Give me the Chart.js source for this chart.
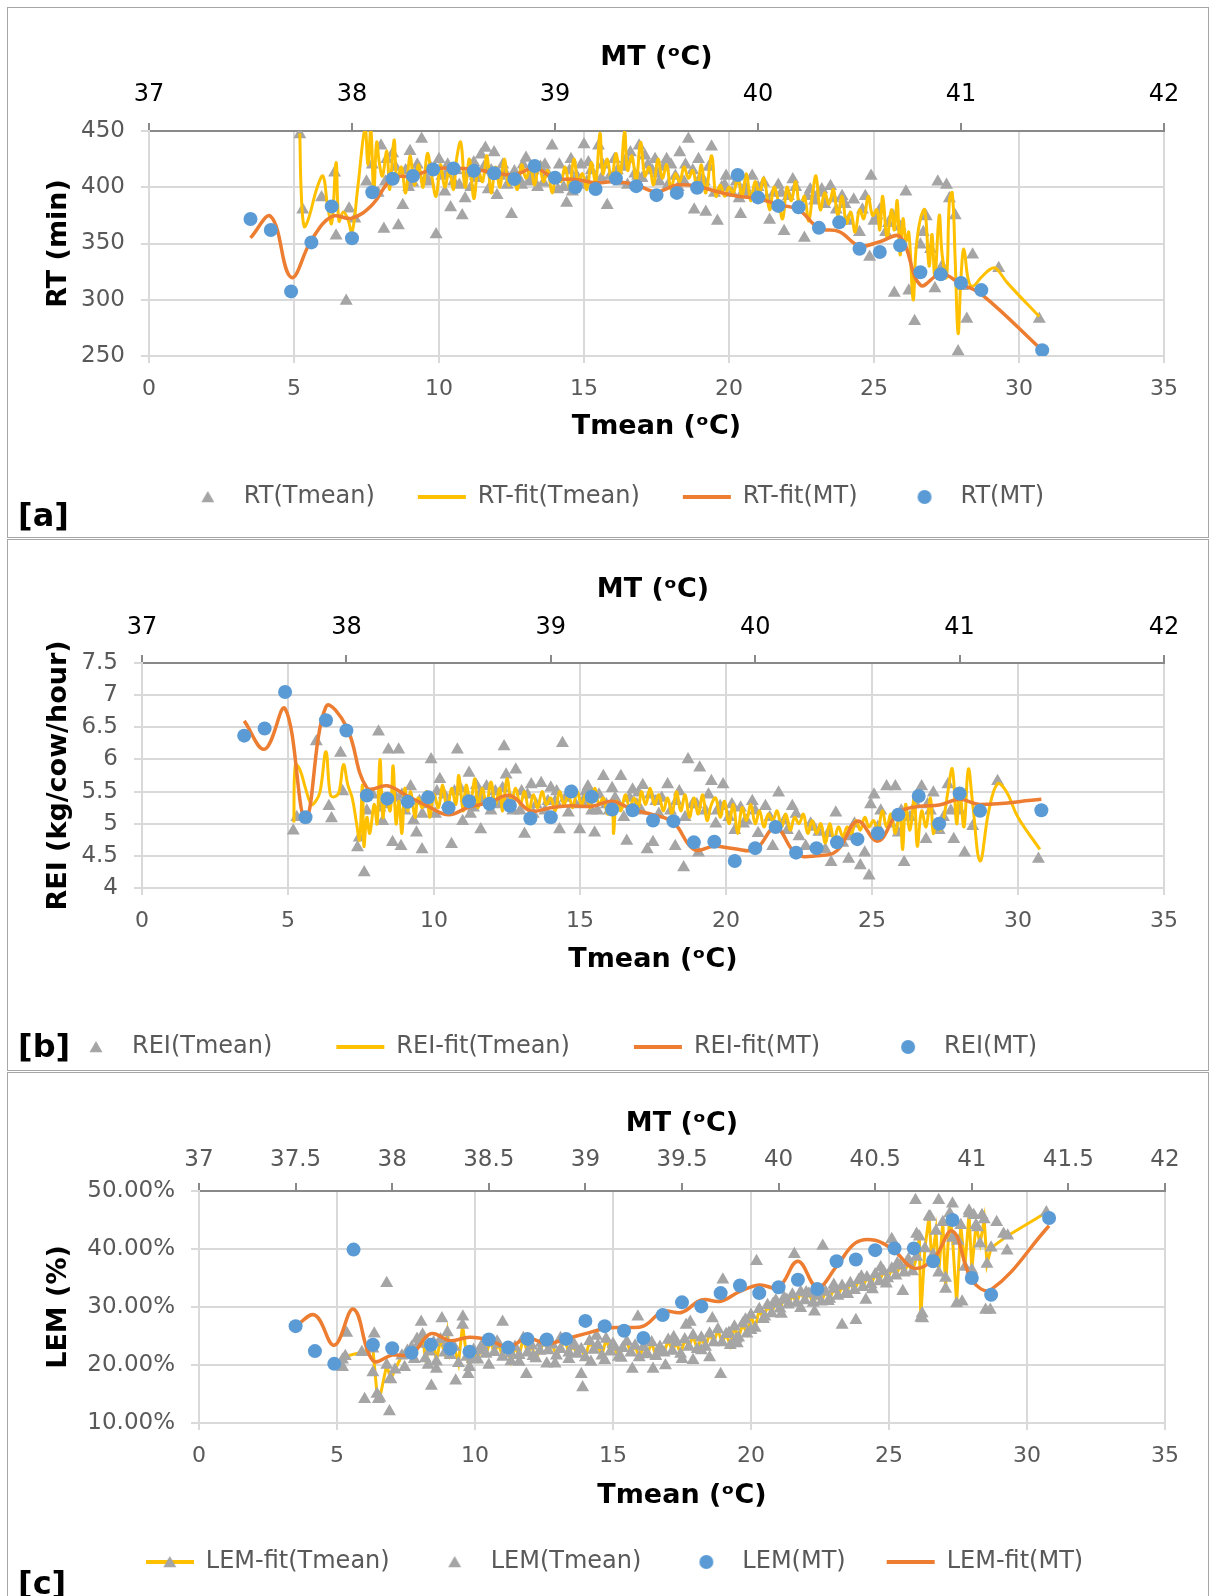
<!DOCTYPE html>
<html>
<head>
<meta charset="utf-8">
<script src="https://cdn.jsdelivr.net/npm/chart.js@4.4.0/dist/chart.umd.min.js"></script>
<style>
body { margin: 0; background: #fff; width: 1210px; height: 1596px; overflow: hidden; position: relative; font-family: 'DejaVu Sans', sans-serif; }
.panel { position: absolute; left: 7px; width: 1202px; border: 1px solid #a6a6a6; box-sizing: border-box; background: #fff; }
.panel canvas { position: absolute; left: 0; top: 0; }
.tag { position: absolute; left: 10px; font: bold 32px/32px 'DejaVu Sans', sans-serif; color: #000; z-index: 2; }
</style>
</head>
<body>
<div class="panel" style="top:7px;height:531px"><canvas id="cA" width="1200" height="529"></canvas><div class="tag" style="top:491px">[a]</div></div>
<div class="panel" style="top:539px;height:532px"><canvas id="cB" width="1200" height="530"></canvas><div class="tag" style="top:490px">[b]</div></div>
<div class="panel" style="top:1072px;height:532px"><canvas id="cC" width="1200" height="530"></canvas><div class="tag" style="top:494px">[c]</div></div>
<script>
// MT points (top axis)
const mtRT = [37.5,37.6,37.7,37.8,37.9,38.0,38.1,38.2,38.3,38.4,38.5,38.6,38.7,38.8,38.9,39.0,39.1,39.2,39.3,39.4,39.5,39.6,39.7,39.9,40.0,40.1,40.2,40.3,40.4,40.5,40.6,40.7,40.8,40.9,41.0,41.1,41.4];
const mtAll = [37.5,37.6,37.7,37.8,37.9,38.0,38.1,38.2,38.3,38.4,38.5,38.6,38.7,38.8,38.9,39.0,39.1,39.2,39.3,39.4,39.5,39.6,39.7,39.8,39.9,40.0,40.1,40.2,40.3,40.4,40.5,40.6,40.7,40.8,40.9,41.0,41.1,41.4];

// [a] RT
const rtMt = [371.8,362,307.4,351,383,354.7,395.6,407.6,410,415.8,416.7,414.6,412.4,407.3,418.9,408.5,400,398.4,407.9,401,393,395,399.6,410.9,391,383.4,382.2,363.9,368.8,345.3,342.5,348.3,324.5,322.7,315,308.6,255.2];
const rtFitMt = [355,374,320,353,374,372.5,384.5,408,410,416,417,416,413,411,417,408,407,404,405,402,396,402,401,396,392,390,384.5,380,363.6,360.6,348,351.6,356,313,323,314,305,255];
const rtTmean = [[5.2,447],[5.3,380],[5.95,391],[6.4,413],[6.45,357],[6.8,299],[6.9,381],[7.1,372],[7.5,405],[7.7,420],[7.9,395],[8.0,437],[8.1,363],[8.2,425],[8.35,410],[8.4,430],[8.6,366],[8.75,384],[8.85,415],[9.0,432],[9.1,404],[9.25,420],[9.4,443],[9.55,408],[9.7,418],[9.9,358],[10.0,425],[10.1,410],[10.2,396],[10.3,420],[10.4,382],[10.5,405],[10.6,415],[10.8,375],[10.9,390],[11.0,412],[11.1,400],[11.2,422],[11.35,408],[11.45,429],[11.6,435],[11.7,398],[11.8,415],[11.9,431],[12.0,393],[12.1,410],[12.2,420],[12.35,402],[12.5,376],[12.6,414],[12.75,408],[12.9,420],[13.0,426],[13.1,405],[13.25,415],[13.4,400],[13.5,418],[13.6,404],[13.75,412],[13.9,437],[14.0,408],[14.15,420],[14.3,400],[14.4,386],[14.5,415],[14.6,396],[14.75,410],[14.9,420],[15.0,438],[15.1,405],[15.25,415],[15.4,400],[15.5,437],[15.65,420],[15.8,384],[15.9,410],[16.05,425],[16.2,405],[16.35,418],[16.5,402],[16.6,431],[16.75,412],[16.9,437],[17.0,408],[17.2,420],[17.35,415],[17.45,425],[17.6,405],[17.75,418],[17.9,402],[18.0,420],[18.15,410],[18.3,431],[18.45,405],[18.6,443],[18.75,415],[18.8,380],[19.0,408],[19.2,378],[19.3,418],[19.4,436],[19.6,370],[19.75,400],[19.9,410],[20.1,395],[20.25,405],[20.4,376],[20.55,400],[20.8,410],[20.95,395],[21.2,404],[21.4,371],[21.55,395],[21.7,402],[21.9,361],[22.05,392],[22.2,407],[22.4,385],[22.6,355],[22.8,398],[22.95,388],[23.1,395],[23.3,385],[23.5,401],[23.7,380],[23.9,392],[24.1,370],[24.3,389],[24.5,360],[24.7,392],[24.85,338],[24.9,410],[25.0,370],[25.2,380],[25.4,360],[25.65,375],[25.7,306],[25.9,365],[26.1,396],[26.2,308],[26.4,281],[26.6,349],[26.7,360],[26.8,374],[26.95,345],[27.1,310],[27.2,405],[27.35,330],[27.5,402],[27.6,390],[27.8,375],[27.9,254],[28.05,312],[28.2,283],[28.4,340],[29.3,328],[30.7,283],
    [8.15,405],[8.5,418],[8.95,400],[9.2,412],[9.65,405],[10.25,412],[10.7,402],[11.25,410],[11.55,418],[12.3,412],[12.85,402],[13.2,410],[13.65,420],[14.1,398],[14.55,425],[14.85,402],[15.15,422],[15.6,408],[16.15,415],[16.45,425],[16.85,410],[17.1,428],[17.55,412],[17.85,425],[18.25,400],[18.5,420],[18.95,425],[19.15,405],[19.5,395],[19.85,402],[20.35,390],[20.65,395],[21.0,400],[21.3,390],[21.8,395],[22.3,400],[22.7,392],[23.2,398],[23.6,390],[24.0,385],[24.6,380],[25.1,375],[25.5,368]];
const rtFitTmean = [[5.2,448],[5.25,395],[5.35,365],[5.5,372],[5.8,400],[6.0,410],[6.15,385],[6.3,368],[6.45,422],[6.55,370],[6.7,378],[6.85,372],[7.0,360],[7.2,400],[7.45,452],[7.55,420],[7.65,452],[7.75,395],[7.85,440],[7.95,420],[8.05,410],[8.2,432],[8.3,398],[8.45,442],[8.55,405],[8.7,418],[8.85,395],[9.0,428],[9.15,402],[9.3,420],[9.45,400],[9.6,430],[9.75,410],[9.9,392],[10.05,420],[10.2,400],[10.35,415],[10.5,398],[10.6,424],[10.75,440],[10.9,400],[11.05,425],[11.2,390],[11.35,415],[11.5,405],[11.65,428],[11.8,395],[11.95,418],[12.1,400],[12.25,425],[12.4,402],[12.55,412],[12.7,398],[12.85,420],[13.0,408],[13.15,418],[13.3,402],[13.45,422],[13.6,405],[13.75,415],[13.9,395],[14.05,412],[14.2,405],[14.35,418],[14.5,400],[14.65,425],[14.8,405],[14.95,412],[15.1,398],[15.25,422],[15.4,404],[15.55,448],[15.65,412],[15.8,425],[15.95,405],[16.1,430],[16.25,410],[16.4,450],[16.5,415],[16.65,428],[16.8,405],[16.95,440],[17.1,410],[17.25,418],[17.4,402],[17.55,425],[17.7,408],[17.85,420],[18.0,398],[18.15,412],[18.3,405],[18.45,418],[18.6,408],[18.75,415],[18.9,400],[19.05,420],[19.2,395],[19.4,428],[19.55,392],[19.7,402],[19.85,392],[20.0,400],[20.15,395],[20.3,408],[20.45,392],[20.6,412],[20.75,388],[20.9,405],[21.05,395],[21.2,408],[21.4,380],[21.55,400],[21.7,388],[21.85,372],[22.0,400],[22.15,388],[22.3,405],[22.45,378],[22.6,392],[22.75,370],[22.9,398],[23.0,410],[23.15,380],[23.3,395],[23.45,385],[23.6,398],[23.75,375],[23.9,392],[24.05,368],[24.2,378],[24.35,360],[24.5,380],[24.65,372],[24.8,392],[24.95,375],[25.1,380],[25.2,362],[25.3,392],[25.45,355],[25.6,380],[25.7,362],[25.8,388],[25.9,340],[26.0,372],[26.1,352],[26.2,360],[26.35,300],[26.45,345],[26.6,372],[26.75,380],[26.9,330],[27.0,358],[27.1,320],[27.25,375],[27.35,340],[27.5,320],[27.6,388],[27.7,395],[27.8,335],[27.9,270],[28.0,320],[28.1,345],[28.25,318],[28.4,312],[28.7,320],[29.0,327],[29.2,328],[29.6,315],[30.7,285]];

// [b] REI
const reiMt = [6.37,6.48,7.05,5.1,6.61,6.45,5.44,5.39,5.34,5.41,5.25,5.35,5.31,5.28,5.08,5.1,5.5,5.42,5.22,5.21,5.05,5.04,4.71,4.72,4.42,4.62,4.95,4.55,4.62,4.71,4.76,4.85,5.14,5.43,5.0,5.47,5.2,5.21];
const reiFitMt = [6.6,6.16,6.79,5.08,6.82,6.51,5.56,5.59,5.43,5.27,5.14,5.26,5.33,5.44,5.2,5.25,5.28,5.27,5.35,5.22,5.14,5.02,4.6,4.65,4.61,4.6,4.94,4.53,4.5,4.58,5.04,4.73,5.17,5.27,5.29,5.38,5.3,5.38];
const reiTmean = [[5.18,4.89],[5.3,5.1],[5.97,6.28],[6.3,6.6],[6.4,5.27],[6.49,5.08],[6.8,6.1],[6.87,5.5],[7.38,4.63],[7.44,4.78],[7.61,4.24],[7.7,5.2],[7.9,5.45],[8.1,6.43],[8.24,5.04],[8.3,5.3],[8.44,6.15],[8.58,4.71],[8.7,5.4],[8.79,6.15],[8.87,4.65],[9.0,5.2],[9.2,5.58],[9.3,5.05],[9.4,4.86],[9.5,5.35],[9.59,4.6],[9.75,5.3],[9.9,6.0],[10.05,5.15],[10.2,5.69],[10.35,5.45],[10.5,5.2],[10.6,4.68],[10.7,5.5],[10.8,6.15],[10.98,5.04],[11.1,5.4],[11.2,5.79],[11.35,5.25],[11.45,5.6],[11.6,4.91],[11.7,5.35],[11.8,5.58],[11.95,5.2],[12.1,5.5],[12.25,5.3],[12.4,6.2],[12.47,5.76],[12.6,5.4],[12.8,5.84],[12.95,5.2],[13.1,4.84],[13.2,5.45],[13.33,5.61],[13.5,5.3],[13.67,5.63],[13.8,5.2],[14.0,5.56],[14.15,5.35],[14.3,4.91],[14.4,6.25],[14.5,5.4],[14.6,5.17],[14.75,5.5],[14.99,4.91],[15.1,5.35],[15.27,5.58],[15.4,5.2],[15.5,4.86],[15.65,5.45],[15.8,5.74],[15.9,5.3],[16.0,5.2],[16.2,5.4],[16.4,5.74],[16.5,5.1],[16.6,4.73],[16.8,5.53],[16.95,5.3],[17.0,5.48],[17.15,5.6],[17.3,4.6],[17.5,4.71],[17.6,5.35],[17.8,5.4],[18.0,5.61],[18.1,5.2],[18.26,4.65],[18.4,5.5],[18.55,4.32],[18.7,6.0],[18.85,5.3],[19.06,4.55],[19.1,5.87],[19.3,5.2],[19.5,5.66],[19.65,5.0],[19.8,5.27],[19.9,5.61],[20.1,5.1],[20.3,4.9],[20.5,5.25],[20.7,5.05],[20.9,5.35],[21.1,4.85],[21.35,5.27],[21.6,4.65],[21.8,5.48],[22.0,5.05],[22.27,5.27],[22.5,4.8],[22.73,4.65],[22.9,5.0],[23.18,4.87],[23.4,4.6],[23.6,4.4],[23.76,5.17],[24.0,4.7],[24.2,4.45],[24.4,5.0],[24.6,4.35],[24.75,4.55],[24.9,4.19],[24.95,5.3],[25.07,5.45],[25.3,5.2],[25.5,5.58],[25.65,5.0],[25.8,5.58],[25.9,4.86],[26.1,4.4],[26.3,5.1],[26.5,5.3],[26.7,5.58],[26.85,4.76],[27.0,5.2],[27.1,5.48],[27.3,4.9],[27.45,5.1],[27.6,5.61],[27.8,4.76],[28.0,5.2],[28.17,4.55],[28.45,4.96],[29.3,5.66],[30.7,4.45],
    [8.15,5.25],[8.9,5.45],[9.6,5.15],[10.1,5.5],[10.45,5.3],[10.9,5.55],[11.25,5.15],[11.55,5.45],[12.0,5.35],[12.35,5.55],[12.7,5.2],[13.0,5.5],[13.4,5.15],[13.9,5.35],[14.2,5.5],[14.85,5.3],[15.2,5.5],[15.6,5.2],[16.1,5.55],[16.3,5.3],[16.7,5.4],[17.1,5.2],[17.4,5.45],[17.7,5.15],[18.3,5.35],[18.6,5.1],[19.0,5.3],[19.4,5.45],[19.7,5.2],[20.2,5.3],[20.6,5.0],[21.0,5.2],[21.5,5.1],[22.1,4.9],[22.4,5.15],[23.0,4.95],[23.5,4.85],[24.3,4.8],[25.2,4.95],[26.0,5.2],[26.9,5.3],[27.7,5.2]];
const reiFitTmean = [[5.2,5.02],[5.25,5.92],[5.4,5.85],[5.6,5.55],[5.8,5.3],[5.95,5.35],[6.1,5.5],[6.3,6.12],[6.45,5.45],[6.6,5.42],[6.75,5.5],[6.9,5.92],[7.05,5.6],[7.2,5.4],[7.35,5.0],[7.45,4.75],[7.55,5.6],[7.6,4.65],[7.7,5.1],[7.8,4.85],[7.95,5.3],[8.05,5.0],[8.15,6.0],[8.25,5.1],[8.35,5.45],[8.5,5.2],[8.6,5.9],[8.7,5.0],[8.8,5.35],[8.9,4.85],[9.0,5.55],[9.1,5.2],[9.2,5.5],[9.35,5.1],[9.45,5.4],[9.6,5.25],[9.75,5.5],[9.85,5.1],[10.0,5.45],[10.15,5.25],[10.3,5.6],[10.45,5.2],[10.6,5.55],[10.75,5.3],[10.85,5.75],[11.0,5.2],[11.1,5.6],[11.25,5.35],[11.4,5.7],[11.5,5.25],[11.65,5.55],[11.8,5.3],[11.95,5.65],[12.1,5.3],[12.25,5.55],[12.35,5.2],[12.5,5.7],[12.65,5.35],[12.8,5.55],[12.95,5.3],[13.1,5.5],[13.25,5.2],[13.4,5.45],[13.55,5.25],[13.7,5.5],[13.85,5.3],[14.0,5.4],[14.15,5.2],[14.3,5.5],[14.45,5.3],[14.6,5.45],[14.75,5.25],[14.9,5.5],[15.05,5.3],[15.2,5.45],[15.35,5.25],[15.5,5.55],[15.65,5.3],[15.8,5.4],[15.95,5.15],[16.1,5.2],[16.15,4.85],[16.25,5.35],[16.4,5.2],[16.55,5.45],[16.7,5.25],[16.85,5.4],[17.0,5.25],[17.1,5.5],[17.25,5.3],[17.4,5.55],[17.55,5.3],[17.7,5.45],[17.85,5.2],[18.0,5.4],[18.15,5.15],[18.3,5.5],[18.45,5.2],[18.6,5.45],[18.75,5.1],[18.9,5.4],[19.05,5.15],[19.2,5.45],[19.35,5.05],[19.5,5.3],[19.65,5.4],[19.8,5.1],[19.95,5.35],[20.1,5.0],[20.25,5.3],[20.4,4.85],[20.55,5.25],[20.7,5.05],[20.85,5.3],[21.0,5.0],[21.15,5.2],[21.3,4.95],[21.45,5.15],[21.6,5.05],[21.75,5.2],[21.9,4.95],[22.05,5.15],[22.2,4.9],[22.35,5.1],[22.5,5.0],[22.65,5.15],[22.8,4.85],[22.95,5.05],[23.1,4.85],[23.25,5.0],[23.4,4.7],[23.55,5.0],[23.7,4.75],[23.85,4.95],[24.0,4.8],[24.15,4.95],[24.3,4.85],[24.45,5.05],[24.6,4.9],[24.75,5.1],[24.9,4.95],[25.05,5.05],[25.2,4.9],[25.35,5.2],[25.5,4.95],[25.65,5.15],[25.8,4.85],[25.95,5.2],[26.05,4.6],[26.15,5.3],[26.3,4.9],[26.45,5.4],[26.55,4.65],[26.7,5.2],[26.85,4.95],[27.0,5.4],[27.1,4.85],[27.2,5.0],[27.35,4.9],[27.5,5.2],[27.6,5.5],[27.75,5.85],[27.9,5.0],[28.0,5.55],[28.15,4.95],[28.3,5.85],[28.45,5.3],[28.7,4.42],[29.0,5.2],[29.3,5.62],[29.6,5.5],[30.0,5.1],[30.75,4.6]];

// [c] LEM (%)
const lemMt = [26.7,22.4,20.2,39.9,23.5,22.9,22.1,23.5,22.8,22.3,24.4,23.0,24.5,24.4,24.5,27.6,26.7,25.9,24.65,28.6,30.8,30.1,32.4,33.7,32.4,33.4,34.7,33.1,37.9,38.2,39.8,40.1,40.1,37.9,45.0,35.0,32.1,45.35];
const lemFitMt = [26.7,28.6,23.4,29.65,20.75,21.7,21.9,25.4,24.2,24.8,24.35,23.1,24.65,23.65,24.5,25.4,26.3,26.5,26.7,29.2,29.1,31.2,31.0,32.7,33.8,33.4,37.9,33.4,37.0,41.1,41.5,39.65,36.7,38.2,43.1,34.7,33.0,44.0];
const lemFitTmean = [[5.2,20.9],[5.3,21.5],[5.9,22.2],[6.3,22.8],[6.45,15.0],[6.55,14.3],[6.8,20.0],[6.95,17.5],[7.1,19.2],[7.35,21.6],[7.55,22.4],[7.8,21.0],[7.95,23.6],[8.1,25.2],[8.2,21.1],[8.35,22.3],[8.5,23.9],[8.6,20.6],[8.75,24.4],[8.9,22.1],[9.0,25.6],[9.1,21.7],[9.25,23.1],[9.4,20.3],[9.55,26.9],[9.7,21.4],[9.8,19.6],[9.95,22.6],[10.1,20.9],[10.25,23.4],[10.4,21.9],[10.55,24.1],[10.7,22.2],[10.85,23.6],[11.0,21.4],[11.15,22.9],[11.3,20.6],[11.45,23.1],[11.6,21.7],[11.75,24.6],[11.9,22.1],[12.05,23.3],[12.2,21.1],[12.35,22.4],[12.5,24.1],[12.65,22.5],[12.8,23.5],[12.95,21.6],[13.1,22.7],[13.25,24.4],[13.4,22.1],[13.55,23.3],[13.7,21.9],[13.85,22.7],[14.0,21.3],[14.15,24.1],[14.3,22.6],[14.45,23.4],[14.6,21.6],[14.75,24.5],[14.9,22.3],[15.05,23.1],[15.2,21.4],[15.35,22.9],[15.5,24.0],[15.65,22.1],[15.8,23.3],[15.95,21.3],[16.1,23.1],[16.25,21.9],[16.4,23.9],[16.55,21.5],[16.7,23.1],[16.85,22.1],[17.0,24.3],[17.15,22.4],[17.3,23.9],[17.45,21.9],[17.6,24.4],[17.75,23.1],[17.9,25.1],[18.05,22.7],[18.2,24.7],[18.35,23.1],[18.5,25.4],[18.65,23.9],[18.8,26.1],[18.95,23.9],[19.1,25.3],[19.25,23.4],[19.4,26.6],[19.55,24.7],[19.7,27.1],[19.85,25.4],[20.0,28.6],[20.15,26.4],[20.3,29.6],[20.45,27.9],[20.6,30.3],[20.75,28.9],[20.9,31.1],[21.05,29.7],[21.2,31.6],[21.35,30.4],[21.5,32.1],[21.65,30.7],[21.8,32.6],[21.95,31.1],[22.1,32.3],[22.25,30.7],[22.4,31.9],[22.55,30.9],[22.7,32.6],[22.85,31.4],[23.0,33.1],[23.15,31.9],[23.3,33.6],[23.45,32.4],[23.6,34.1],[23.75,32.9],[23.9,34.6],[24.05,33.4],[24.2,35.1],[24.35,33.9],[24.5,35.6],[24.65,34.4],[24.8,36.1],[24.95,34.9],[25.1,36.6],[25.25,35.4],[25.4,37.1],[25.55,35.9],[25.7,37.6],[25.85,36.1],[26.0,38.6],[26.1,42.1],[26.15,28.1],[26.3,40.1],[26.45,45.6],[26.55,37.9],[26.7,43.1],[26.8,35.9],[26.95,44.6],[27.05,33.1],[27.2,46.1],[27.3,41.9],[27.45,30.6],[27.6,44.1],[27.75,36.9],[27.9,46.1],[28.0,36.4],[28.15,44.1],[28.3,40.9],[28.45,45.1],[28.55,37.4],[28.7,40.2],[29.3,42.3],[30.7,46.3]];
const lemTmean = [[5.2,19.6],[5.35,25.5],[6.0,14.1],[6.3,18.7],[6.35,25.4],[6.5,14.1],[6.8,34.1],[6.9,12.0],[6.92,17.6],[7.45,19.6],[7.7,23.0],[7.9,24.5],[8.05,27.4],[8.3,20.0],[8.42,16.4],[8.6,19.3],[8.8,28.0],[9.0,23.8],[9.3,17.3],[9.56,28.3],[9.75,18.4],[9.9,21.0],[10.2,22.5],[10.5,20.0],[10.8,24.0],[11.0,27.4],[11.3,22.0],[11.6,20.5],[11.86,18.4],[12.1,21.5],[12.4,23.8],[12.6,20.2],[12.9,20.2],[13.1,24.6],[13.4,21.0],[13.6,23.5],[13.85,18.4],[13.9,16.1],[14.2,20.5],[14.4,25.0],[14.7,20.8],[15.0,23.6],[15.3,21.2],[15.7,19.3],[15.9,28.3],[16.2,21.8],[16.45,19.3],[16.7,22.4],[16.9,19.9],[17.2,24.8],[17.5,21.0],[17.65,26.9],[17.8,27.4],[17.9,20.8],[18.2,22.5],[18.5,21.3],[18.6,28.0],[18.9,18.4],[18.98,34.7],[19.2,25.5],[19.46,24.5],[19.5,23.7],[19.8,27.8],[20.0,26.0],[20.2,37.9],[20.5,28.3],[20.8,30.5],[21.1,28.8],[21.3,31.2],[21.57,39.1],[21.8,29.8],[22.0,32.5],[22.3,29.2],[22.6,40.5],[22.8,31.0],[23.0,33.8],[23.3,26.9],[23.5,32.2],[23.8,27.7],[24.0,35.2],[24.16,31.2],[24.4,33.0],[24.7,36.8],[24.9,34.0],[25.1,41.7],[25.3,37.5],[25.5,32.7],[25.7,38.2],[25.96,48.4],[26.0,42.6],[26.2,28.9],[26.22,28.0],[26.5,45.5],[26.6,39.0],[26.8,48.4],[27.05,35.0],[27.3,47.8],[27.5,41.4],[27.65,30.9],[27.9,46.6],[28.07,45.8],[28.2,43.7],[28.37,45.8],[28.5,29.5],[28.67,29.5],[28.9,44.6],[29.15,42.6],[29.28,39.7]];

const BLUE = '#5b9bd5', ORANGE = '#ed7d31', YELLOW = '#ffc000', GRAY = '#a5a5a5';

Chart.defaults.font.family = "'DejaVu Sans', sans-serif";

function pares(lista) {
    return lista.map(p => ({ x: p[0], y: p[1] }));
}
function juntar(xs, ys) {
    return xs.map((x, i) => ({ x: x, y: ys[i] }));
}

// pequenos desenhos usados só na legenda
function marcador(tipo) {
    const c = document.createElement('canvas');
    if (tipo === 'linhaTri') { c.width = 48; c.height = 16; } else { c.width = 16; c.height = 16; }
    const ctx = c.getContext('2d');
    if (tipo === 'linhaTri') {
        ctx.strokeStyle = YELLOW;
        ctx.lineWidth = 4;
        ctx.beginPath(); ctx.moveTo(0, 8); ctx.lineTo(48, 8); ctx.stroke();
    }
    if (tipo === 'circ') {
        ctx.fillStyle = BLUE;
        Chart.helpers.drawPoint(ctx, { pointStyle: 'circle', radius: 7, borderWidth: 0 }, 8, 8);
    } else {
        ctx.fillStyle = GRAY;
        Chart.helpers.drawPoint(ctx, { pointStyle: 'triangle', radius: 7.5, borderWidth: 0 }, c.width / 2, 9.5);
    }
    return c;
}

function serieTriangulo(label, dados) {
    return { label: label, data: dados, pointStyle: 'triangle', pointRadius: 7.5, backgroundColor: GRAY, borderColor: GRAY, borderWidth: 0, order: 3, legendMarker: marcador('tri') };
}
function serieLinha(label, dados, cor, eixo, ordem) {
    return { label: label, data: dados, xAxisID: eixo, showLine: true, pointRadius: 0, pointStyle: 'line', borderColor: cor, backgroundColor: cor, borderWidth: eixo === 'x2' ? 3.5 : 3, tension: 0.4, order: ordem };
}
function serieCirculo(label, dados) {
    return { label: label, data: dados, xAxisID: 'x2', pointStyle: 'circle', pointRadius: 7, backgroundColor: BLUE, borderColor: BLUE, borderWidth: 0, order: 0, legendMarker: marcador('circ') };
}

function itensLegenda(chart) {
    return Chart.defaults.plugins.legend.labels.generateLabels(chart).map(item => {
        const ds = chart.data.datasets[item.datasetIndex];
        if (ds.legendMarker) item.pointStyle = ds.legendMarker;
        if (item.pointStyle === 'line') item.lineWidth = 4;
        return item;
    });
}

function criarGrafico(id, p) {
    return new Chart(document.getElementById(id), {
        type: 'scatter',
        data: { datasets: p.datasets },
        options: {
            responsive: false,
            animation: false,
            events: [],
            layout: { padding: { left: p.padLeft, right: p.padRight, top: 0, bottom: p.padBottom } },
            plugins: {
                tooltip: { enabled: false },
                legend: {
                    position: 'bottom',
                    align: p.legendAlign,
                    labels: {
                        usePointStyle: true, pointStyleWidth: 48, boxHeight: 9,
                        padding: p.legendGap, color: '#595959', font: { size: 24 },
                        generateLabels: itensLegenda,
                        sort: (a, b) => a.datasetIndex - b.datasetIndex
                    }
                }
            },
            scales: {
                x: {
                    type: 'linear', position: 'bottom', min: 0, max: 35,
                    ticks: { stepSize: 5, color: '#595959', font: { size: 22 }, padding: 12.8 },
                    grid: { color: '#d9d9d9', lineWidth: 2, tickLength: 7 },
                    border: { color: '#d9d9d9', width: 2 },
                    title: { display: true, text: 'Tmean (ᵒC)', color: '#000', font: { size: 27, weight: 'bold' }, padding: { top: 0, bottom: p.botTitlePad } },
                    afterFit: s => { s.height = p.botH; }
                },
                x2: {
                    type: 'linear', position: 'top', min: 37, max: 42,
                    ticks: { stepSize: p.mtStep, color: p.mtColor, font: { size: p.mtFont }, padding: p.topTickPad, callback: v => String(v) },
                    grid: { drawOnChartArea: false, color: '#898989', lineWidth: 2, tickLength: 8 },
                    border: { color: '#898989', width: 2 },
                    title: { display: true, text: 'MT (ᵒC)', color: '#000', font: { size: 27, weight: 'bold' }, padding: { top: p.topTitlePad, bottom: 0 } },
                    afterFit: s => { s.height = p.topH; }
                },
                y: {
                    type: 'linear', position: 'left', min: p.yMin, max: p.yMax,
                    ticks: { stepSize: p.yStep, color: '#595959', font: { size: 23 }, padding: 16, callback: p.yFmt },
                    grid: { color: '#d9d9d9', lineWidth: 2, tickLength: 8 },
                    border: { color: '#d9d9d9', width: 2 },
                    title: { display: true, text: p.yTitle, color: '#000', font: { size: 27, weight: 'bold' }, padding: { top: p.yTitlePad, bottom: 0 } },
                    afterFit: s => { s.width = p.yW; }
                }
            }
        }
    });
}

criarGrafico('cA', {
    datasets: [
        serieTriangulo('RT(Tmean)', pares(rtTmean)),
        serieLinha('RT-fit(Tmean)', pares(rtFitTmean), YELLOW, 'x', 2),
        serieLinha('RT-fit(MT)', juntar(mtAll, rtFitMt), ORANGE, 'x2', 1),
        serieCirculo('RT(MT)', juntar(mtRT, rtMt))
    ],
    padLeft: 56, padRight: 44, padBottom: 18, legendGap: 43, legendAlign: 'center',
    topH: 123, botH: 86, yW: 85, yTitlePad: -21.2, topTitlePad: 33.8, topTickPad: 13.6, botTitlePad: -1.2,
    mtStep: 1, mtColor: '#000', mtFont: 24,
    yMin: 250, yMax: 450, yStep: 50, yTitle: 'RT (min)', yFmt: v => String(v)
});

criarGrafico('cB', {
    datasets: [
        serieTriangulo('REI(Tmean)', pares(reiTmean)),
        serieLinha('REI-fit(Tmean)', pares(reiFitTmean), YELLOW, 'x', 2),
        serieLinha('REI-fit(MT)', juntar(mtAll, reiFitMt), ORANGE, 'x2', 1),
        serieCirculo('REI(MT)', juntar(mtAll, reiMt))
    ],
    padLeft: 0, padRight: 44, padBottom: 1, legendGap: 64, legendAlign: 'start',
    topH: 123, botH: 83, yW: 134, yTitlePad: 34.8, topTitlePad: 33.8, topTickPad: 12.6, botTitlePad: -5.2,
    mtStep: 1, mtColor: '#000', mtFont: 24,
    yMin: 4, yMax: 7.5, yStep: 0.5, yTitle: 'REI (kg/cow/hour)', yFmt: v => String(v)
});

const fitLem = serieTriangulo('LEM-fit(Tmean)', pares(lemFitTmean));
fitLem.showLine = true;
fitLem.borderColor = YELLOW;
fitLem.borderWidth = 3;
fitLem.pointBorderColor = GRAY;
fitLem.pointBackgroundColor = GRAY;
fitLem.pointBorderWidth = 0;
fitLem.tension = 0;
fitLem.order = 3;
fitLem.legendMarker = marcador('linhaTri');
const lemPts = serieTriangulo('LEM(Tmean)', pares(lemTmean));
lemPts.order = 2;

criarGrafico('cC', {
    datasets: [
        fitLem,
        lemPts,
        serieCirculo('LEM(MT)', juntar(mtAll, lemMt)),
        serieLinha('LEM-fit(MT)', juntar(mtAll, lemFitMt), ORANGE, 'x2', 1)
    ],
    padLeft: 56, padRight: 43, padBottom: 19, legendGap: 41, legendAlign: 'center',
    topH: 118, botH: 86, yW: 135, yTitlePad: -21.2, topTitlePad: 34.8, topTickPad: 9.2, botTitlePad: -3.2,
    mtStep: 0.5, mtColor: '#595959', mtFont: 23,
    yMin: 10, yMax: 50, yStep: 5, yTitle: 'LEM (%)', yFmt: v => v.toFixed(2) + '%'
});
</script>
</body>
</html>
